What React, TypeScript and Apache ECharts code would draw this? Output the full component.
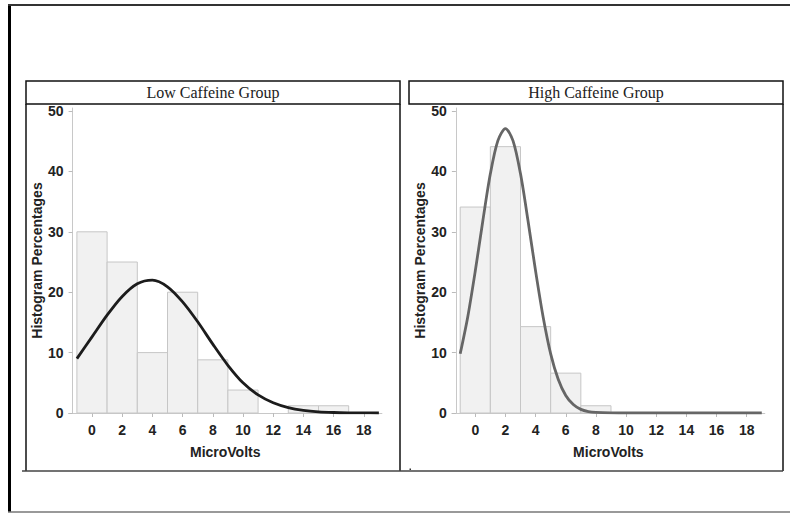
import React, { useEffect, useRef } from "react";
import * as echarts from "echarts";

// ---- data ----
const binWidth = 2;
const lowBinCenters = [0, 2, 4, 6, 8, 10, 12, 14, 16];
const lowBinValues = [30, 25, 10, 20, 8.8, 3.8, 0, 1.2, 1.2];
const highBinCenters = [0, 2, 4, 6, 8];
const highBinValues = [34.1, 44.1, 14.3, 6.6, 1.2];

const lowCurveX = [-1, 0, 1, 2, 3, 4, 5, 6, 7, 8, 9, 10, 11, 12, 13, 14, 15, 16, 17, 18, 19];
const lowCurveY = [9.0, 12.6, 16.2, 19.3, 21.4, 22.0, 20.9, 18.4, 15.1, 11.4, 7.9, 5.0, 3.0, 1.7, 0.9, 0.44, 0.19, 0.08, 0.03, 0.01, 0.0];

const highCurveX = [-1, -0.5, 0, 0.5, 1, 1.5, 2, 2.5, 3, 3.5, 4, 4.5, 5, 5.5, 6, 6.5, 7, 7.5, 8, 9, 10, 11, 12, 13, 14, 15, 16, 17, 18, 19];
const highCurveY = [9.8, 15.9, 23.5, 31.8, 39.6, 45.1, 47.1, 45.1, 39.6, 31.8, 23.5, 15.9, 9.8, 5.6, 2.9, 1.4, 0.6, 0.24, 0.09, 0.01, 0, 0, 0, 0, 0, 0, 0, 0, 0, 0];

const xTickValues = [0, 2, 4, 6, 8, 10, 12, 14, 16, 18];
const yTickValues = [0, 10, 20, 30, 40, 50];
const panelTitles = ["Low Caffeine Group", "High Caffeine Group"];
const xAxisTitle = "MicroVolts";
const yAxisTitle = "Histogram Percentages";

const SANS = "'Liberation Sans', Arial, sans-serif";
const SERIF = "'Liberation Serif', 'Times New Roman', serif";

function makeXAxis(gridIndex: number) {
  return {
    type: "value",
    gridIndex,
    min: -1.55,
    max: 19.2,
    name: xAxisTitle,
    nameLocation: "middle",
    nameGap: 32,
    nameTextStyle: { fontFamily: SANS, fontWeight: "bold", fontSize: 14, color: "#222" },
    axisLine: { show: true, onZero: false, lineStyle: { color: "#c8c8c8", width: 1 } },
    axisTick: { show: true, length: 4, lineStyle: { color: "#bbb" }, customValues: xTickValues },
    axisLabel: { fontFamily: SANS, fontWeight: "bold", fontSize: 14, color: "#222", margin: 10, customValues: xTickValues },
    splitLine: { show: false },
  };
}

function makeYAxis(gridIndex: number) {
  return {
    type: "value",
    gridIndex,
    min: 0,
    max: 50.5,
    offset: -4,
    name: yAxisTitle,
    nameLocation: "middle",
    nameGap: 28,
    nameTextStyle: { fontFamily: SANS, fontWeight: "bold", fontSize: 14, color: "#222" },
    axisLine: { show: true, onZero: false, lineStyle: { color: "#c8c8c8", width: 1 } },
    axisTick: { show: true, length: 4, lineStyle: { color: "#bbb" }, customValues: yTickValues },
    axisLabel: { fontFamily: SANS, fontWeight: "bold", fontSize: 14, color: "#222", margin: 9, customValues: yTickValues },
    splitLine: { show: false },
  };
}

function histSeries(idx: number, centers: number[], values: number[]) {
  return {
    type: "custom",
    xAxisIndex: idx,
    yAxisIndex: idx,
    data: centers.map((c, i) => [c, values[i]]),
    renderItem: (_params: any, api: any) => {
      const c = api.value(0);
      const v = api.value(1);
      if (!v) return null;
      const p0 = api.coord([c - binWidth / 2, v]);
      const p1 = api.coord([c + binWidth / 2, 0]);
      return {
        type: "rect",
        shape: { x: p0[0], y: p0[1], width: p1[0] - p0[0], height: p1[1] - p0[1] },
        style: { fill: "#f1f1f1", stroke: "#c6c6c6", lineWidth: 1 },
      };
    },
    z: 2,
  };
}

function curveSeries(idx: number, xs: number[], ys: number[], color: string) {
  return {
    type: "line",
    xAxisIndex: idx,
    yAxisIndex: idx,
    data: xs.map((x, i) => [x, ys[i]]),
    smooth: 0.3,
    symbol: "none",
    lineStyle: { color, width: 2.8 },
    z: 3,
  };
}

export default function App() {
  const ref = useRef<HTMLDivElement>(null);
  useEffect(() => {
    if (!ref.current) return;
    const chart = echarts.init(ref.current, null, { renderer: "svg" });
    const frame = { stroke: "#111", lineWidth: 1.5 };
    chart.setOption({
      animation: false,
      backgroundColor: "#fff",
      grid: [
        { left: 68.6, top: 108, width: 313.3, height: 305, containLabel: false },
        { left: 451.9, top: 108, width: 312.9, height: 305, containLabel: false },
      ],
      xAxis: [makeXAxis(0), makeXAxis(1)],
      yAxis: [makeYAxis(0), makeYAxis(1)],
      series: [
        histSeries(0, lowBinCenters, lowBinValues),
        curveSeries(0, lowCurveX, lowCurveY, "#1c1c1c"),
        histSeries(1, highBinCenters, highBinValues),
        curveSeries(1, highCurveX, highCurveY, "#666"),
      ],
      graphic: [
        // outer frame
        { type: "line", shape: { x1: 9.5, y1: 4, x2: 9.5, y2: 512 }, style: { stroke: "#000", lineWidth: 3 } },
        { type: "line", shape: { x1: 8, y1: 5, x2: 790, y2: 5 }, style: { stroke: "#333", lineWidth: 2 } },
        { type: "line", shape: { x1: 8, y1: 512, x2: 790, y2: 512 }, style: { stroke: "#777", lineWidth: 1.5 } },
        // left panel
        { type: "rect", shape: { x: 26, y: 81, width: 374, height: 23 }, style: { fill: "none", ...frame } },
        { type: "line", shape: { x1: 26, y1: 104, x2: 26, y2: 471 }, style: frame },
        { type: "line", shape: { x1: 400, y1: 104, x2: 400, y2: 471 }, style: frame },
        { type: "text", x: 213, y: 92.5, style: { text: panelTitles[0], font: `16px ${SERIF}`, fill: "#222", align: "center", verticalAlign: "middle" } },
        // right panel
        { type: "rect", shape: { x: 409, y: 81, width: 374, height: 23 }, style: { fill: "none", ...frame } },
        { type: "line", shape: { x1: 783, y1: 104, x2: 783, y2: 471 }, style: frame },
        { type: "text", x: 596, y: 92.5, style: { text: panelTitles[1], font: `16px ${SERIF}`, fill: "#222", align: "center", verticalAlign: "middle" } },
        // shared bottom line
        { type: "line", shape: { x1: 22, y1: 471, x2: 783, y2: 471 }, style: { stroke: "#444", lineWidth: 1.5 } },
        { type: "rect", shape: { x: 409.5, y: 468.5, width: 1.5, height: 1.5 }, style: { fill: "#333" } },
      ],
    });
    return () => chart.dispose();
  }, []);
  return (
    <div
      ref={ref}
      style={{ position: "absolute", left: 0, top: 0, width: 790, height: 514 }}
    />
  );
}
